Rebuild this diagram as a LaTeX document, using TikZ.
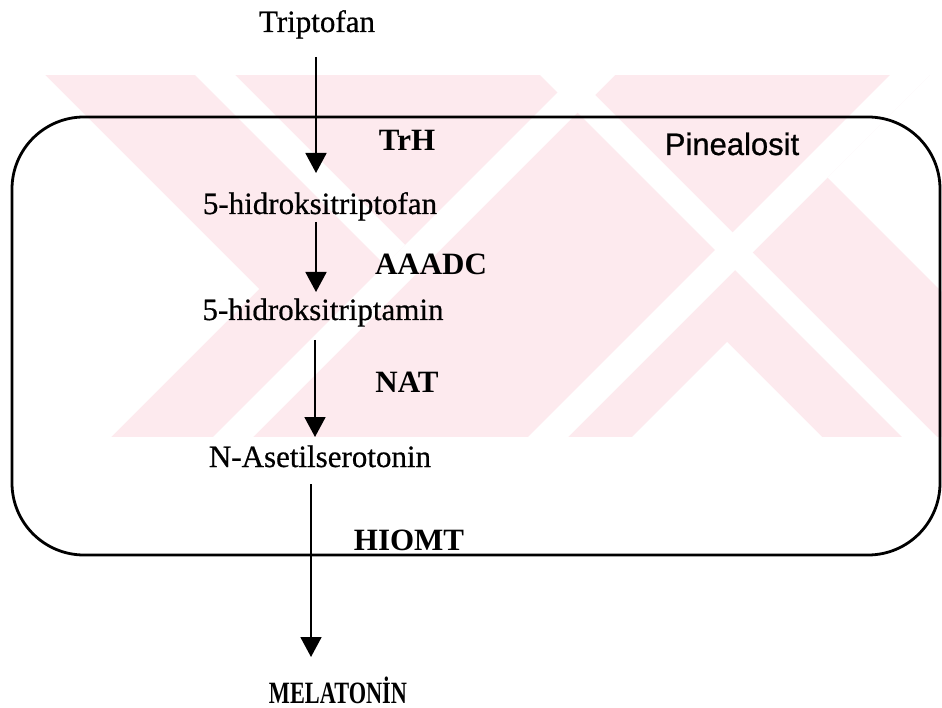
\documentclass[tikz,border=0pt]{standalone}
\usepackage{fontspec}
\setmainfont{Liberation Serif}
\newfontfamily\serifheavy{Liberation Serif}[FakeBold=0.6]
\newfontfamily\arialfont{Liberation Sans}[FakeBold=0.8]
\usetikzlibrary{arrows.meta}
\definecolor{wmpink}{RGB}{253,234,238}
\begin{document}
\begin{tikzpicture}[x=1pt,y=-1pt,
  lbl/.style={font=\fontsize{31}{36}\selectfont\serifheavy, inner sep=0pt, anchor=base},
  enz/.style={font=\fontsize{31}{36}\selectfont\bfseries, inner sep=0pt, anchor=base},
  arr/.style={line width=1.8pt, -{Triangle[width=21pt,length=20pt]}},
  cell/.style={line width=2.8pt, rounded corners=72pt},
  wm/.style={fill=wmpink, draw=none},
  wmgap/.style={fill=white, draw=none}]
\useasboundingbox (0,0) rectangle (942,708);
% watermark
\begin{scope}
\clip (0,75) rectangle (942,437);
\fill[wm] (0,75) rectangle (942,437);
\fill[wmgap] (0,75) -- (45,75) -- (259,289) -- (111,437) -- (0,437) -- cycle;
\fill[wmgap] (195,75) -- (235,75) -- (405,245) -- (385,265) -- cycle;
\fill[wmgap] (575,75) -- (615,75) -- (253,437) -- (213,437) -- cycle;
\fill[wmgap] (890,75) -- (930,75) -- (568,437) -- (528,437) -- cycle;
\fill[wmgap] (540,75) -- (575,75) -- (937,437) -- (902,437) -- cycle;
\fill[wmgap] (727,342) -- (632,437) -- (822,437) -- cycle;
\fill[wmgap] (827.5,177.5) -- (930,75) -- (942,75) -- (942,292) -- cycle;
\end{scope}
% cell
\draw[cell] (12,117) rectangle (940,555);
% texts
\node[lbl] (trip) at (317,32) {Triptofan};
\node[lbl] (htrp) at (320,214) {5-hidroksitriptofan};
\node[lbl] (htra) at (323,320) {5-hidroksitriptamin};
\node[lbl] (nas) at (320,467) {N-Asetilserotonin};
\node[font=\fontsize{31}{34}\selectfont\bfseries, inner sep=0pt, anchor=base, xscale=0.72] (mel) at (338,703) {MELATONİN};
\node[enz] (trh) at (407,151) {TrH};
\node[enz] (aaadc) at (431,275) {AAADC};
\node[enz] (nat) at (407,392) {NAT};
\node[enz] (hiomt) at (409,550) {HIOMT};
\node[font=\fontsize{31}{36}\selectfont\arialfont, inner sep=0pt, anchor=base] (pin) at (732,155) {Pinealosit};
% arrows
\coordinate (a1s) at (316,57);  \coordinate (a1e) at (316,173);
\coordinate (a2s) at (316,222); \coordinate (a2e) at (316,292);
\coordinate (a3s) at (315,340); \coordinate (a3e) at (315,437);
\coordinate (a4s) at (311,484); \coordinate (a4e) at (311,657);
\draw[arr] (a1s) -- (a1e);
\draw[arr] (a2s) -- (a2e);
\draw[arr] (a3s) -- (a3e);
\draw[arr] (a4s) -- (a4e);
\end{tikzpicture}
\end{document}
